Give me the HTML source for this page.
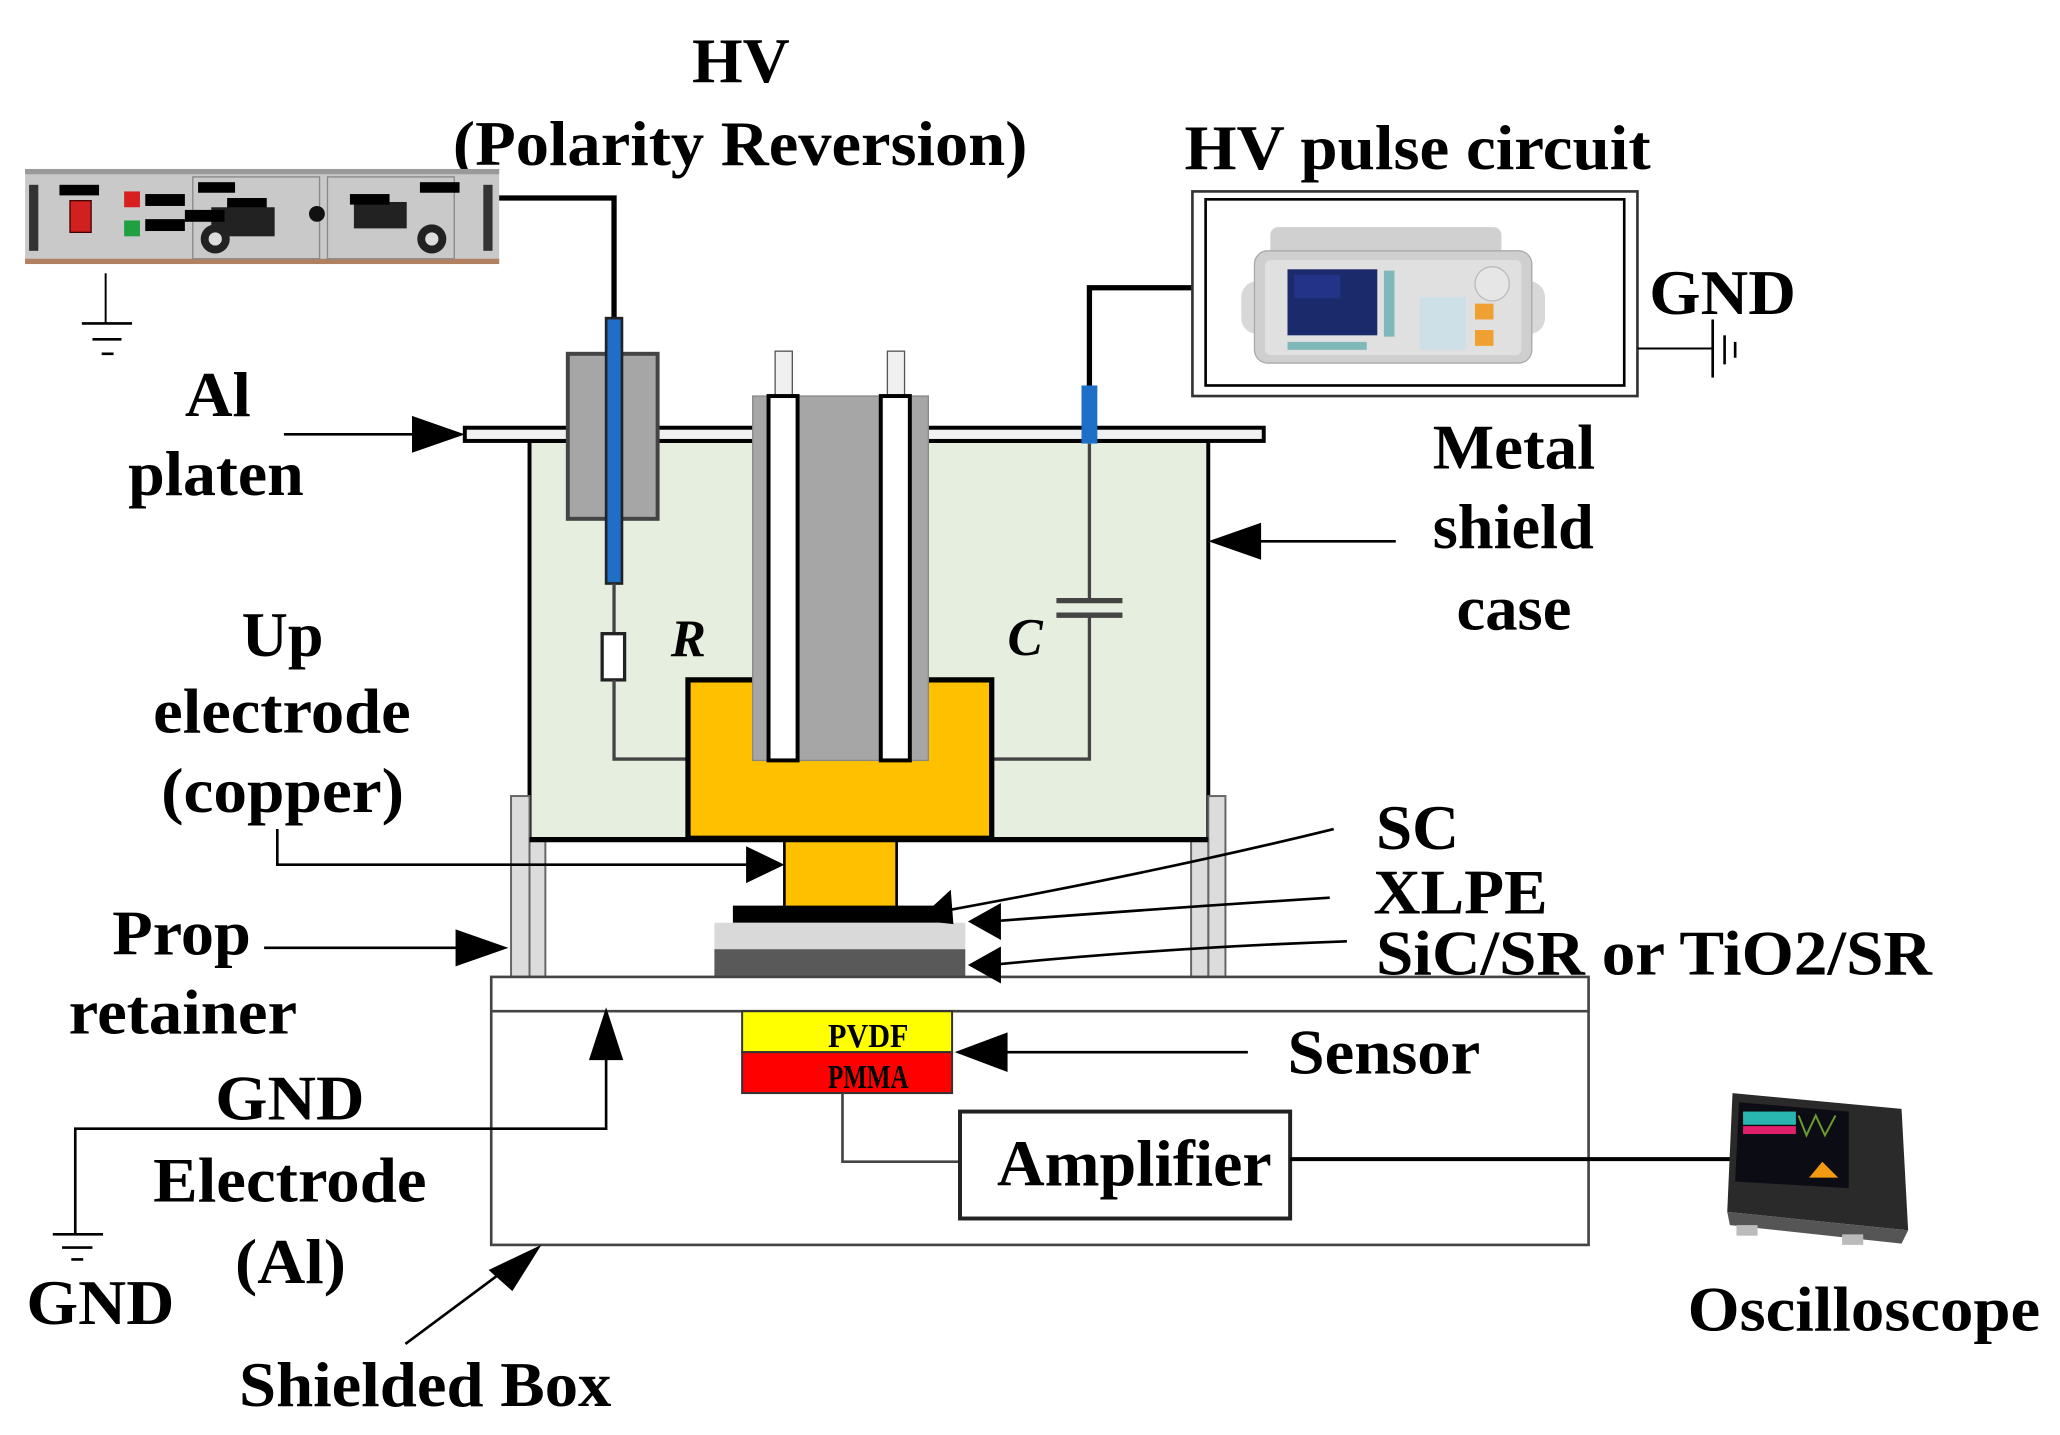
<!DOCTYPE html>
<html><head><meta charset="utf-8"><style>
html,body{margin:0;padding:0;background:#fff;overflow:hidden}
svg{display:block}
text{font-family:"Liberation Serif",serif;font-weight:bold;fill:#000}
</style></head><body>
<svg width="2060" height="1435" viewBox="0 0 1560 1087" preserveAspectRatio="none" xmlns="http://www.w3.org/2000/svg">
<rect width="1560" height="1087" fill="#fff"/>
<!-- Titles -->
<g font-size="48" text-anchor="start" lengthAdjust="spacingAndGlyphs">
<text x="524" y="62" textLength="74" lengthAdjust="spacingAndGlyphs">HV</text>
<text x="343" y="125" textLength="435" lengthAdjust="spacingAndGlyphs">(Polarity Reversion)</text>
<text x="897" y="128" textLength="353" lengthAdjust="spacingAndGlyphs">HV pulse circuit</text>
<text x="1249" y="238" textLength="111" lengthAdjust="spacingAndGlyphs">GND</text>
<text x="1085" y="355" textLength="123" lengthAdjust="spacingAndGlyphs">Metal</text>
<text x="1085" y="415" textLength="122" lengthAdjust="spacingAndGlyphs">shield</text>
<text x="1103" y="477" textLength="87" lengthAdjust="spacingAndGlyphs">case</text>
<text x="140" y="315" textLength="50" lengthAdjust="spacingAndGlyphs">Al</text>
<text x="97" y="375" textLength="133" lengthAdjust="spacingAndGlyphs">platen</text>
<text x="183" y="497" textLength="62" lengthAdjust="spacingAndGlyphs">Up</text>
<text x="116" y="555" textLength="195" lengthAdjust="spacingAndGlyphs">electrode</text>
<text x="122" y="615" textLength="184" lengthAdjust="spacingAndGlyphs">(copper)</text>
<text x="1042" y="643" textLength="63" lengthAdjust="spacingAndGlyphs">SC</text>
<text x="1040" y="692" textLength="132" lengthAdjust="spacingAndGlyphs">XLPE</text>
<text x="1042" y="738" textLength="421" lengthAdjust="spacingAndGlyphs">SiC/SR or TiO2/SR</text>
<text x="85" y="723" textLength="105" lengthAdjust="spacingAndGlyphs">Prop</text>
<text x="52" y="783" textLength="173" lengthAdjust="spacingAndGlyphs">retainer</text>
<text x="163" y="848" textLength="113" lengthAdjust="spacingAndGlyphs">GND</text>
<text x="116" y="910" textLength="207" lengthAdjust="spacingAndGlyphs">Electrode</text>
<text x="178" y="972" textLength="84" lengthAdjust="spacingAndGlyphs">(Al)</text>
<text x="20" y="1003" textLength="112" lengthAdjust="spacingAndGlyphs">GND</text>
<text x="181" y="1065" textLength="282" lengthAdjust="spacingAndGlyphs">Shielded Box</text>
<text x="975" y="813" textLength="146" lengthAdjust="spacingAndGlyphs">Sensor</text>
<text x="1278" y="1008" textLength="267" lengthAdjust="spacingAndGlyphs">Oscilloscope</text>
</g>

<!-- HV power supply -->
<rect x="19" y="128" width="359" height="72" fill="#c9c9c9"/>
<rect x="19" y="128" width="359" height="4" fill="#999"/>
<rect x="19" y="196" width="359" height="4" fill="#b08060"/>
<rect x="22" y="140" width="7" height="50" fill="#333"/>
<rect x="366" y="140" width="7" height="50" fill="#333"/>
<rect x="146" y="134" width="96" height="62" fill="none" stroke="#888" stroke-width="1"/>
<rect x="248" y="134" width="96" height="62" fill="none" stroke="#888" stroke-width="1"/>
<rect x="45" y="140" width="30" height="8" fill="#000"/>
<rect x="53" y="152" width="16" height="24" fill="#d02020" stroke="#400" stroke-width="1"/>
<rect x="94" y="145" width="12" height="12" fill="#d82020"/>
<rect x="94" y="167" width="12" height="12" fill="#20a040"/>
<rect x="110" y="147" width="30" height="9" fill="#000"/>
<rect x="110" y="166" width="30" height="9" fill="#000"/>
<rect x="150" y="138" width="28" height="8" fill="#000"/>
<rect x="172" y="150" width="30" height="8" fill="#000"/>
<rect x="160" y="157" width="48" height="22" fill="#222"/>
<rect x="140" y="159" width="30" height="9" fill="#000"/>
<circle cx="163" cy="181" r="11" fill="#222"/><circle cx="163" cy="181" r="5" fill="#ddd"/>
<circle cx="240" cy="162" r="6" fill="#111"/>
<rect x="268" y="153" width="40" height="20" fill="#222"/>
<rect x="265" y="147" width="30" height="8" fill="#000"/>
<rect x="318" y="138" width="30" height="8" fill="#000"/>
<circle cx="327" cy="181" r="11" fill="#222"/><circle cx="327" cy="181" r="5" fill="#ddd"/>
<!-- ground left top -->
<line x1="80" y1="207" x2="80" y2="245" stroke="#000" stroke-width="1.5"/>
<line x1="62" y1="245" x2="100" y2="245" stroke="#000" stroke-width="2"/>
<line x1="70" y1="257" x2="92" y2="257" stroke="#000" stroke-width="2"/>
<line x1="77" y1="268" x2="86" y2="268" stroke="#000" stroke-width="2"/>
<!-- HV wire -->
<polyline points="378,150 465,150 465,242" fill="none" stroke="#000" stroke-width="4"/>

<!-- Case -->
<rect x="401" y="334" width="514" height="302" fill="#e6efdf" stroke="#000" stroke-width="3"/>
<!-- platen -->
<rect x="352" y="324" width="605" height="10" fill="#f0f0f0" stroke="#000" stroke-width="3"/>
<!-- left grey block & rod -->
<rect x="430" y="268" width="68" height="125" fill="#a6a6a6" stroke="#444" stroke-width="3"/>
<rect x="459" y="241" width="12" height="201" fill="#1f6fc9" stroke="#222" stroke-width="2"/>
<!-- resistor branch -->
<polyline points="465,442 465,480" fill="none" stroke="#444" stroke-width="2.5"/>
<rect x="456" y="480" width="17" height="35" fill="#fff" stroke="#222" stroke-width="2.5"/>
<polyline points="465,515 465,575 522,575" fill="none" stroke="#444" stroke-width="2.5"/>
<text x="508" y="497" font-size="40" font-style="italic" font-weight="normal">R</text>
<!-- C branch -->
<polyline points="903,218 825,218 825,293" fill="none" stroke="#000" stroke-width="4"/>
<rect x="819" y="292" width="12" height="44" fill="#1f6fc9"/>
<polyline points="825,336 825,455" fill="none" stroke="#444" stroke-width="2.5"/>
<line x1="800" y1="455" x2="850" y2="455" stroke="#444" stroke-width="4"/>
<line x1="800" y1="466" x2="850" y2="466" stroke="#444" stroke-width="4"/>
<polyline points="825,466 825,575 751,575" fill="none" stroke="#444" stroke-width="2.5"/>
<text x="763" y="496" font-size="40" font-style="italic" font-weight="normal">C</text>
<!-- copper electrode -->
<rect x="521" y="515" width="230" height="120" fill="#ffc000" stroke="#000" stroke-width="4"/>
<rect x="594" y="635" width="85" height="53" fill="#ffc000" stroke="#000" stroke-width="2"/>
<!-- central cylinder -->
<rect x="570" y="300" width="133" height="276" fill="#a6a6a6" stroke="#888" stroke-width="1"/>
<rect x="587" y="266" width="13" height="34" fill="#f0f0f0" stroke="#555" stroke-width="1"/>
<rect x="672" y="266" width="13" height="34" fill="#f0f0f0" stroke="#555" stroke-width="1"/>
<rect x="582" y="300" width="22" height="276" fill="#fff" stroke="#000" stroke-width="3"/>
<rect x="667" y="300" width="22" height="276" fill="#fff" stroke="#000" stroke-width="3"/>

<!-- props -->
<rect x="387" y="603" width="14" height="137" fill="#dcdcdc" stroke="#666" stroke-width="1.5"/>
<rect x="401" y="636" width="12" height="104" fill="#dcdcdc" stroke="#666" stroke-width="1.5"/>
<rect x="915" y="603" width="13" height="137" fill="#dcdcdc" stroke="#666" stroke-width="1.5"/>
<rect x="902" y="636" width="13" height="104" fill="#dcdcdc" stroke="#666" stroke-width="1.5"/>
<line x1="401" y1="636" x2="915" y2="636" stroke="#000" stroke-width="4"/>
<!-- sample layers -->
<rect x="555" y="686" width="162" height="13" fill="#000"/>
<rect x="541" y="699" width="190" height="20" fill="#d9d9d9"/>
<rect x="541" y="719" width="190" height="21" fill="#595959"/>

<!-- Shielded box -->
<rect x="372" y="740" width="831" height="203" fill="none" stroke="#444" stroke-width="2"/>
<line x1="372" y1="766" x2="1203" y2="766" stroke="#444" stroke-width="2"/>
<rect x="562" y="766" width="159" height="31" fill="#ffff00" stroke="#333" stroke-width="1.5"/>
<rect x="562" y="797" width="159" height="31" fill="#ff0000" stroke="#333" stroke-width="1.5"/>
<text x="627" y="793" font-size="26" font-weight="normal" textLength="61" lengthAdjust="spacingAndGlyphs">PVDF</text>
<text x="627" y="824" font-size="26" font-weight="normal" textLength="61" lengthAdjust="spacingAndGlyphs">PMMA</text>
<polyline points="638,828 638,880 727,880" fill="none" stroke="#444" stroke-width="2"/>
<rect x="727" y="842" width="250" height="81" fill="#fff" stroke="#222" stroke-width="3"/>
<text x="755" y="898" font-size="50" textLength="208" lengthAdjust="spacingAndGlyphs">Amplifier</text>
<line x1="977" y1="878" x2="1312" y2="878" stroke="#000" stroke-width="3"/>

<!-- Pulse circuit -->
<rect x="903" y="145" width="337" height="155" fill="#fff" stroke="#333" stroke-width="2"/>
<rect x="913" y="151" width="317" height="141" fill="#fff" stroke="#000" stroke-width="2"/>
<rect x="940" y="213" width="30" height="40" rx="12" fill="#d8d8d8"/>
<rect x="1140" y="213" width="30" height="40" rx="12" fill="#d8d8d8"/>
<rect x="962" y="172" width="175" height="30" rx="6" fill="#d0d0d0"/>
<rect x="950" y="190" width="210" height="85" rx="10" fill="#cfcfcf" stroke="#aaa"/>
<rect x="958" y="197" width="194" height="72" rx="4" fill="#e0e0e0"/>
<rect x="975" y="204" width="68" height="50" fill="#1a2a6a"/>
<rect x="980" y="208" width="35" height="18" fill="#223388"/>
<circle cx="1130" cy="215" r="13" fill="#e6e6e6" stroke="#bbb"/>
<rect x="1117" y="230" width="14" height="12" fill="#f0a030"/>
<rect x="1117" y="250" width="14" height="12" fill="#f0a030"/>
<g fill="#cde0e8"><rect x="1075" y="225" width="35" height="40"/></g>
<g fill="#7fb8b8"><rect x="975" y="259" width="60" height="6"/><rect x="1048" y="205" width="8" height="50"/></g>
<!-- GND right -->
<line x1="1240" y1="264" x2="1297" y2="264" stroke="#000" stroke-width="1.5"/>
<line x1="1297" y1="242" x2="1297" y2="286" stroke="#000" stroke-width="2"/>
<line x1="1306" y1="254" x2="1306" y2="276" stroke="#000" stroke-width="2"/>
<line x1="1314" y1="259" x2="1314" y2="271" stroke="#000" stroke-width="2"/>

<!-- Oscilloscope -->
<polygon points="1312,828 1440,840 1445,932 1308,918" fill="#2a2a2a"/>
<polygon points="1317,835 1400,842 1400,900 1314,895" fill="#0c0c14"/>
<rect x="1320" y="842" width="40" height="10" fill="#2ab6b0"/>
<rect x="1320" y="853" width="40" height="6" fill="#e0206a"/>
<polygon points="1370,892 1380,880 1392,892" fill="#f39a10"/>
<polyline points="1362,845 1368,860 1375,845 1382,860 1390,845" fill="none" stroke="#6a9a30" stroke-width="1.5"/>
<polygon points="1308,918 1445,932 1440,942 1310,928" fill="#555"/>
<rect x="1315" y="928" width="16" height="8" fill="#bbb"/>
<rect x="1395" y="935" width="16" height="8" fill="#bbb"/>

<!-- arrows and leaders -->
<g stroke="#000" stroke-width="2" fill="none">
<line x1="215" y1="329" x2="320" y2="329"/>
<line x1="1057" y1="410" x2="950" y2="410"/>
<polyline points="210,628 210,655 565,655"/>
<line x1="200" y1="718" x2="352" y2="718"/>
<line x1="945" y1="797" x2="760" y2="797"/>
<polyline points="57,935 57,855 459,855 459,800"/>
<line x1="307" y1="1018" x2="385" y2="960"/>
<path d="M1010,628 Q880,660 715,690"/>
<path d="M1007,680 Q880,688 750,698"/>
<path d="M1020,713 Q880,718 750,731"/>
</g>
<g fill="#000">
<polygon points="352,329 312,315 312,343"/>
<polygon points="915,410 955,396 955,424"/>
<polygon points="594,655 565,641 565,669"/>
<polygon points="385,718 345,704 345,732"/>
<polygon points="723,797 763,782 763,812"/>
<polygon points="459,763 446,803 472,803"/>
<polygon points="410,943 370,962 388,978"/>
<polygon points="695,697 720,674 722,700"/>
<polygon points="733,698 758,684 758,712"/>
<polygon points="733,731 758,717 758,745"/>
</g>
<!-- ground bottom left -->
<line x1="40" y1="935" x2="78" y2="935" stroke="#000" stroke-width="2"/>
<line x1="47" y1="945" x2="70" y2="945" stroke="#000" stroke-width="2"/>
<line x1="54" y1="954" x2="63" y2="954" stroke="#000" stroke-width="2"/>
</svg>
</body></html>
